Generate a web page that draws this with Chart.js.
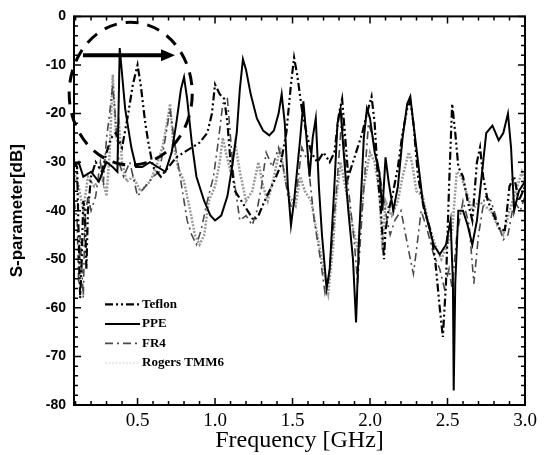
<!DOCTYPE html>
<html lang="en">
<head>
<meta charset="UTF-8">
<title>S-parameter</title>
<script src="https://cdn.jsdelivr.net/npm/chart.js"></script>
<style>
  body { margin: 0; background: #fff; }
  .wrap { width: 546px; height: 455px; position: relative; }
</style>
</head>
<body>
<div class="wrap"><canvas id="sChart"></canvas></div>
<script>
    // x tick labels (GHz)
    const xTicks = [0.5, 1.0, 1.5, 2.0, 2.5, 3.0];

    // Teflon
    const tefFreq = [0.09,0.11,0.12,0.13,0.14,0.15,0.16,0.17,0.18,0.2,0.23,0.27,0.3,0.33,0.36,0.4,0.44,0.47,0.5,0.52,0.55,0.57,0.6,0.65,0.7,0.75,0.8,0.85,0.9,0.95,0.98,1.0,1.03,1.06,1.08,1.1,1.13,1.17,1.21,1.25,1.28,1.32,1.35,1.38,1.42,1.46,1.49,1.51,1.53,1.56,1.59,1.62,1.66,1.7,1.74,1.77,1.8,1.82,1.84,1.86,1.89,1.92,1.95,1.98,2.01,2.03,2.05,2.07,2.09,2.1,2.12,2.15,2.18,2.21,2.24,2.26,2.28,2.31,2.35,2.39,2.42,2.45,2.47,2.49,2.51,2.53,2.55,2.57,2.6,2.63,2.66,2.69,2.71,2.73,2.76,2.8,2.84,2.87,2.9,2.93,2.96,3.0];
    const tefDb = [-30,-31,-45,-58,-50,-38,-40,-52,-40,-33,-30,-32,-28,-25,-24,-27,-20,-14,-10,-14,-22,-26,-31,-33,-31,-29,-28,-27,-26,-24,-20,-14,-16,-17,-22,-30,-36,-38,-40,-42,-41,-38,-36,-34,-31,-24,-14,-8.5,-12,-19,-24,-28,-30,-28,-30,-28,-20,-17,-25,-33,-30,-27,-24,-20,-16.5,-22,-33,-40,-50,-44,-40,-36,-31,-24,-19,-17.5,-22,-33,-40,-44,-50,-60,-66,-55,-35,-18,-24,-31,-33,-38,-42,-30,-27,-33,-38,-41,-44,-44,-35,-33,-38,-35];

    // PPE
    const ppeFreq = [0.09,0.12,0.15,0.2,0.25,0.3,0.34,0.37,0.385,0.42,0.46,0.49,0.53,0.58,0.63,0.68,0.72,0.75,0.78,0.80,0.82,0.85,0.88,0.93,0.97,1.0,1.04,1.08,1.11,1.14,1.16,1.18,1.2,1.23,1.27,1.31,1.35,1.38,1.41,1.43,1.45,1.47,1.49,1.51,1.55,1.57,1.59,1.61,1.63,1.65,1.67,1.69,1.72,1.74,1.77,1.79,1.81,1.83,1.86,1.89,1.91,1.93,1.96,1.98,2.0,2.03,2.06,2.08,2.1,2.12,2.15,2.18,2.21,2.24,2.26,2.28,2.31,2.34,2.37,2.41,2.45,2.49,2.52,2.535,2.54,2.55,2.57,2.6,2.63,2.66,2.69,2.72,2.75,2.79,2.83,2.86,2.89,2.91,2.93,2.96,3.0];
    const ppeDb = [-31,-30,-33,-32,-34,-30,-31,-32,-6.5,-19,-27,-31,-31,-30,-31,-32,-28,-22,-15,-12.5,-17,-26,-33,-38,-41,-42,-41,-37,-31,-24,-15,-8.8,-11,-16,-21,-23.5,-24.5,-23.5,-20,-16,-22,-35,-43,-38,-25,-17.5,-25,-33,-25,-21,-35,-45,-56,-52,-35,-22,-19,-28,-40,-50,-63,-45,-25,-19,-21,-28,-32,-40,-29,-34,-40,-35,-25,-18,-16.5,-22,-30,-38,-42,-47,-49,-47,-42,-55,-77,-55,-40,-40,-43,-47,-42,-33,-24,-22.5,-25.5,-24,-20,-27,-40,-36,-34];

    // FR4
    const fr4Freq = [0.09,0.11,0.12,0.13,0.15,0.16,0.18,0.2,0.23,0.26,0.28,0.3,0.32,0.34,0.36,0.38,0.41,0.45,0.5,0.55,0.6,0.64,0.68,0.71,0.73,0.76,0.79,0.82,0.85,0.88,0.91,0.95,0.99,1.02,1.05,1.08,1.1,1.12,1.16,1.2,1.24,1.27,1.3,1.33,1.37,1.41,1.44,1.47,1.5,1.53,1.56,1.6,1.64,1.68,1.71,1.73,1.76,1.79,1.82,1.84,1.87,1.9,1.92,1.95,1.99,2.02,2.05,2.08,2.11,2.13,2.16,2.2,2.23,2.26,2.28,2.3,2.33,2.37,2.41,2.45,2.48,2.51,2.53,2.56,2.6,2.64,2.67,2.7,2.74,2.78,2.82,2.86,2.89,2.93,2.97,3.0];
    const fr4Db = [-38,-42,-55,-45,-58,-42,-37,-40,-37,-30,-34,-25,-20,-14,-22,-30,-33,-30,-37,-35,-33,-32,-25,-19,-24,-30,-36,-42,-45,-47,-44,-38,-33,-26,-18,-17,-25,-33,-42,-41,-43,-40,-35,-28,-31,-27,-31,-37,-40,-35,-27,-30,-42,-50,-57,-55,-45,-33,-20,-30,-38,-47,-55,-40,-22,-25,-30,-36,-42,-45,-42,-40,-45,-50,-53,-48,-40,-44,-49,-52,-56,-52,-56,-45,-38,-43,-55,-45,-37,-38,-42,-46,-45,-38,-40,-37];

    // Rogers TMM6
    const rogFreq = [0.09,0.12,0.15,0.18,0.22,0.27,0.3,0.32,0.34,0.36,0.38,0.4,0.43,0.47,0.52,0.58,0.62,0.66,0.69,0.71,0.73,0.76,0.8,0.84,0.87,0.9,0.93,0.96,1.0,1.03,1.05,1.07,1.1,1.13,1.16,1.2,1.24,1.28,1.31,1.34,1.38,1.42,1.45,1.48,1.52,1.55,1.58,1.62,1.66,1.7,1.73,1.76,1.78,1.81,1.84,1.88,1.92,1.96,2.0,2.03,2.06,2.08,2.1,2.14,2.18,2.21,2.25,2.27,2.3,2.34,2.38,2.42,2.46,2.5,2.53,2.56,2.59,2.62,2.66,2.7,2.74,2.78,2.82,2.86,2.9,2.94,2.98,3.0];
    const rogDb = [-32,-35,-40,-33,-35,-33,-37,-28,-12,-24,-22,-30,-34,-33,-36,-34,-31,-27,-22,-18,-26,-31,-34,-40,-45,-47,-45,-38,-35,-30,-25,-28,-32,-26,-32,-38,-36,-30,-35,-38,-33,-27,-33,-37,-39,-33,-36,-38,-45,-52,-57,-48,-38,-30,-35,-42,-48,-35,-28,-30,-36,-48,-38,-41,-38,-33,-28,-30,-36,-37,-43,-47,-50,-47,-44,-32,-33,-36,-40,-38,-39,-40,-43,-45,-40,-36,-32,-34];

    const toPoints = (fs, ds) => fs.map((f, i) => ({ x: f, y: ds[i] }));

    // inward ticks on all four sides plus the box
    const frameTicks = {
        id: 'frameTicks',
        afterDraw(chart) {
            const { ctx, chartArea: a, scales: { x, y } } = chart;
            ctx.save();
            ctx.strokeStyle = '#000';
            ctx.lineWidth = 1.5;
            ctx.beginPath();
            for (let i = 1; i <= 30; i++) {
                const f = i / 10;
                if (f < x.min) continue;
                const px = x.getPixelForValue(f);
                const len = i % 5 === 0 ? 7 : 4;
                ctx.moveTo(px, a.bottom); ctx.lineTo(px, a.bottom - len);
                ctx.moveTo(px, a.top); ctx.lineTo(px, a.top + len);
            }
            for (let v = -80; v <= 0; v += 2) {
                const py = y.getPixelForValue(v);
                const len = v % 10 === 0 ? 7 : 4;
                ctx.moveTo(a.left, py); ctx.lineTo(a.left + len, py);
                ctx.moveTo(a.right, py); ctx.lineTo(a.right - len, py);
            }
            ctx.stroke();
            ctx.lineWidth = 2;
            ctx.strokeRect(a.left, a.top, a.width, a.height);
            ctx.restore();
        }
    };

    // dashed circle + arrow, and the legend inside the plot
    const extras = {
        id: 'extras',
        afterDatasetsDraw(chart) {
            const { ctx, chartArea: a, scales: { x, y } } = chart;
            ctx.save();

            const cx = x.getPixelForValue(0.456), cy = y.getPixelForValue(-15.9);
            const rx = x.getPixelForValue(0.853) - cx;
            const ry = y.getPixelForValue(-30.6) - cy;
            ctx.strokeStyle = '#000';
            ctx.lineWidth = 3;
            ctx.setLineDash([13, 9]);
            ctx.beginPath();
            ctx.ellipse(cx, cy, rx, ry, 0, 0, Math.PI * 2);
            ctx.stroke();

            ctx.setLineDash([]);
            const ax0 = x.getPixelForValue(0.148), ax1 = x.getPixelForValue(0.716);
            const ay = y.getPixelForValue(-8);
            ctx.lineWidth = 4;
            ctx.beginPath();
            ctx.moveTo(ax0, ay); ctx.lineTo(ax1 - 8, ay);
            ctx.stroke();
            ctx.fillStyle = '#000';
            ctx.beginPath();
            ctx.moveTo(ax1 + 4, ay); ctx.lineTo(ax1 - 10, ay - 6); ctx.lineTo(ax1 - 10, ay + 6);
            ctx.closePath();
            ctx.fill();

            // legend
            const lx = a.left + 31, ly = a.top + 288;
            ctx.font = 'bold 13px "Liberation Serif", serif';
            ctx.textBaseline = 'middle';
            chart.data.datasets.forEach((ds, i) => {
                const yy = ly + i * 19.5;
                ctx.globalAlpha = i === 3 ? 0.2 : 1;
                ctx.strokeStyle = ds.borderColor;
                ctx.lineWidth = ds.borderWidth;
                ctx.setLineDash(ds.borderDash || []);
                ctx.beginPath();
                ctx.moveTo(lx, yy); ctx.lineTo(lx + 35, yy);
                ctx.stroke();
                ctx.globalAlpha = 1;
                ctx.fillStyle = '#000';
                ctx.fillText(ds.label, lx + 37, yy);
            });
            ctx.restore();
        }
    };

    const ctx = document.getElementById('sChart').getContext('2d');
    const sChart = new Chart(ctx, {
        type: 'line',
        data: {
            datasets: [
                {
                    label: 'Teflon',
                    data: toPoints(tefFreq, tefDb),
                    borderColor: '#000',
                    borderWidth: 2.2,
                    borderDash: [8, 3, 2, 3, 2, 3]
                },
                {
                    label: 'PPE',
                    data: toPoints(ppeFreq, ppeDb),
                    borderColor: '#000',
                    borderWidth: 2
                },
                {
                    label: 'FR4',
                    data: toPoints(fr4Freq, fr4Db),
                    borderColor: '#4a4a4a',
                    borderWidth: 1.6,
                    borderDash: [8, 4, 2, 4]
                },
                {
                    label: 'Rogers TMM6',
                    data: toPoints(rogFreq, rogDb),
                    borderColor: '#9a9a9a',
                    borderWidth: 2.5,
                    borderDash: [2, 1.5]
                }
            ]
        },
        options: {
            responsive: true,
            maintainAspectRatio: false,
            animation: false,
            layout: { padding: { top: 13, right: 21, left: 0, bottom: 0 } },
            elements: { point: { radius: 0 }, line: { tension: 0, fill: false } },
            plugins: { legend: { display: false }, tooltip: { enabled: false } },
            scales: {
                x: {
                    type: 'linear',
                    min: 0.09,
                    max: 3.0,
                    afterBuildTicks: s => { s.ticks = xTicks.map(v => ({ value: v })); },
                    afterFit: s => { s.height = 50; },
                    grid: { display: false, drawTicks: false },
                    border: { display: false },
                    ticks: {
                        padding: 5,
                        color: '#000',
                        font: { family: '"Liberation Serif", serif', size: 19 },
                        callback: v => v.toFixed(1)
                    },
                    title: {
                        display: true,
                        text: 'Frequency [GHz]',
                        color: '#000',
                        padding: { top: 0, bottom: 0 },
                        font: { family: '"Liberation Serif", serif', size: 24 }
                    }
                },
                y: {
                    min: -80,
                    max: 0,
                    afterFit: s => { s.width = 74; },
                    grid: { display: false, drawTicks: false },
                    border: { display: false },
                    ticks: {
                        stepSize: 10,
                        padding: 8,
                        color: '#000',
                        font: { family: '"Liberation Sans", Arial, sans-serif', size: 14, weight: 'bold' }
                    },
                    title: {
                        display: true,
                        text: 'S-parameter[dB]',
                        color: '#000',
                        padding: { top: 7, bottom: 0 },
                        font: { family: '"Liberation Sans", Arial, sans-serif', size: 17, weight: 'bold' }
                    }
                }
            }
        },
        plugins: [frameTicks, extras]
    });
</script>
</body>
</html>
